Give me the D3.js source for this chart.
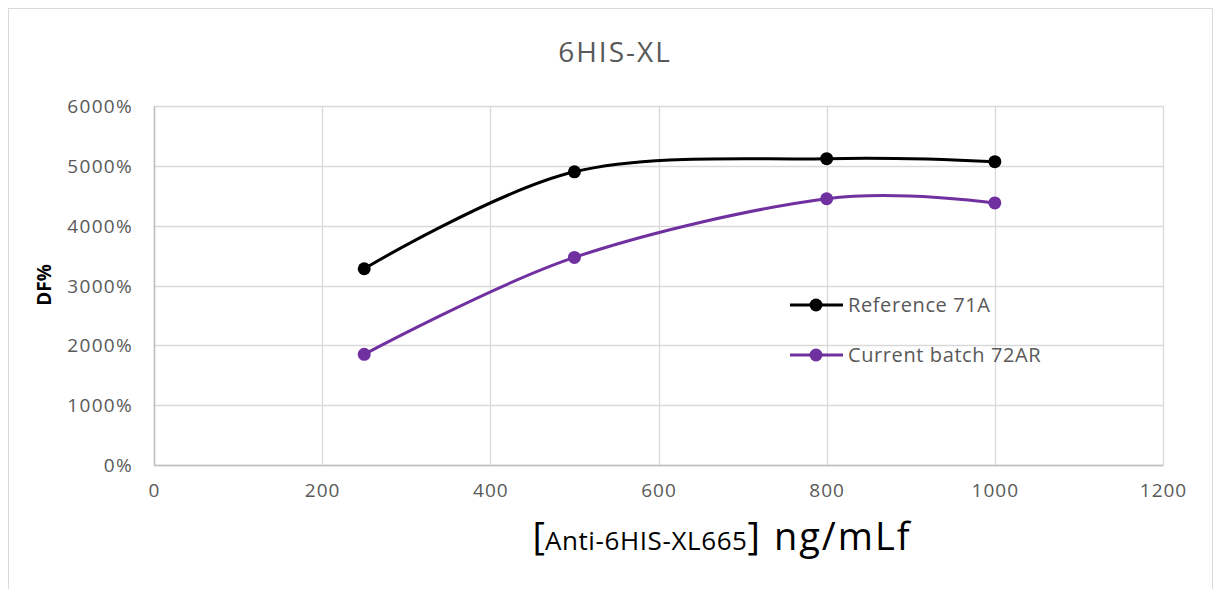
<!DOCTYPE html>
<html>
<head>
<meta charset="utf-8">
<script src="https://cdn.jsdelivr.net/npm/d3@7"></script>
<style>
  body { margin: 0; background: #fff; }
  svg text { font-family: "Open Sans", "Noto Sans", sans-serif; }
</style>
</head>
<body>
<script>
// data
var xValues = [250, 500, 800, 1000];
var referenceValues = [32.8, 49.0, 51.2, 50.7];   // DF as fraction (x100 = %)
var currentValues = [18.5, 34.7, 44.5, 43.8];
var seriesNames = ["Reference 71A", "Current batch 72AR"];
var seriesColors = ["#000000", "#7030a0"];
var xTicks = [0, 200, 400, 600, 800, 1000, 1200];
var yTicks = [0, 10, 20, 30, 40, 50, 60];

var width = 1215, height = 589;
var margin = {top: 106, right: 52, bottom: 124, left: 154};
var w = width - margin.left - margin.right;
var h = height - margin.top - margin.bottom;

var svg = d3.select("body").append("svg")
    .attr("width", width)
    .attr("height", height);

// chart border
svg.append("rect")
    .attr("x", 8.5).attr("y", 8.5)
    .attr("width", 1204).attr("height", 600)
    .attr("fill", "none")
    .attr("stroke", "#d9d9d9");

var g = svg.append("g")
    .attr("transform", "translate(" + margin.left + "," + margin.top + ")");

var xScale = d3.scaleLinear().domain([0, 1200]).range([0, w]);
var yScale = d3.scaleLinear().domain([0, 60]).range([h, 0]);

// gridlines
g.selectAll(".hgrid").data(yTicks).enter().append("line")
    .attr("x1", 0).attr("x2", w)
    .attr("y1", function(d) { return Math.round(yScale(d)) + 0.5; })
    .attr("y2", function(d) { return Math.round(yScale(d)) + 0.5; })
    .attr("stroke", "#d9d9d9").attr("stroke-width", 1.3);

g.selectAll(".vgrid").data(xTicks).enter().append("line")
    .attr("y1", 0).attr("y2", h)
    .attr("x1", function(d) { return Math.round(xScale(d)) + 0.5; })
    .attr("x2", function(d) { return Math.round(xScale(d)) + 0.5; })
    .attr("stroke", "#d9d9d9").attr("stroke-width", 1.3);

// axes
var xAxis = d3.axisBottom(xScale).tickValues(xTicks).tickSize(0).tickPadding(19)
    .tickFormat(d3.format("d"));
var yAxis = d3.axisLeft(yScale).tickValues(yTicks).tickSize(0).tickPadding(22)
    .tickFormat(function(d) { return (d * 100) + "%"; });

var gx = g.append("g").attr("transform", "translate(0," + h + ")").call(xAxis);
gx.select(".domain").attr("stroke", "#bfbfbf").attr("stroke-width", 1.5);
gx.selectAll("text").attr("fill", "#595959")
    .style("font-size", "19px").style("letter-spacing", "1px");

var gy = g.append("g").call(yAxis);
gy.select(".domain").attr("stroke", "#bfbfbf").attr("stroke-width", 1.5);
gy.selectAll("text").attr("fill", "#595959")
    .style("font-size", "19px").style("letter-spacing", "1.3px")
    .attr("dx", "1px").attr("dy", "0.35em");

// series
var allSeries = [referenceValues, currentValues];
var line = d3.line()
    .x(function(d, i) { return xScale(xValues[i]); })
    .y(function(d) { return yScale(d); })
    .curve(d3.curveCatmullRom.alpha(0));

allSeries.forEach(function(vals, s) {
    g.append("path")
        .datum(vals)
        .attr("d", line)
        .attr("fill", "none")
        .attr("stroke", seriesColors[s])
        .attr("stroke-width", 3);

    g.selectAll(".pt" + s).data(vals).enter().append("circle")
        .attr("cx", function(d, i) { return xScale(xValues[i]); })
        .attr("cy", function(d) { return yScale(d); })
        .attr("r", 6.5)
        .attr("fill", seriesColors[s]);
});

// title
svg.append("text")
    .attr("x", 615).attr("y", 62)
    .attr("text-anchor", "middle")
    .attr("fill", "#595959")
    .style("font-size", "28px")
    .style("letter-spacing", "2px")
    .text("6HIS-XL");

// y axis title
svg.append("text")
    .attr("transform", "translate(51,285) rotate(-90)")
    .attr("text-anchor", "middle")
    .attr("fill", "#000")
    .style("font-size", "19px")
    .style("font-weight", "bold")
    .text("DF%");

// x axis title
var xt = svg.append("text")
    .attr("x", 722).attr("y", 550)
    .attr("text-anchor", "middle")
    .attr("fill", "#000");
xt.append("tspan").style("font-size", "38px").text("[");
xt.append("tspan").style("font-size", "26px").style("letter-spacing", "0.6px").text("Anti-6HIS-XL665");
xt.append("tspan").style("font-size", "38px").style("letter-spacing", "2px").text("] ng/mLf");

// legend
var legend = svg.append("g");
seriesNames.forEach(function(name, s) {
    var ly = 305 + s * 50;
    legend.append("line")
        .attr("x1", 790).attr("x2", 843)
        .attr("y1", ly).attr("y2", ly)
        .attr("stroke", seriesColors[s]).attr("stroke-width", 3);
    legend.append("circle")
        .attr("cx", 816).attr("cy", ly).attr("r", 6.5)
        .attr("fill", seriesColors[s]);
    legend.append("text")
        .attr("x", 848).attr("y", ly)
        .attr("dy", "0.35em")
        .attr("fill", "#595959")
        .style("font-size", "20px")
        .style("letter-spacing", "0.6px")
        .text(name);
});
</script>
</body>
</html>
